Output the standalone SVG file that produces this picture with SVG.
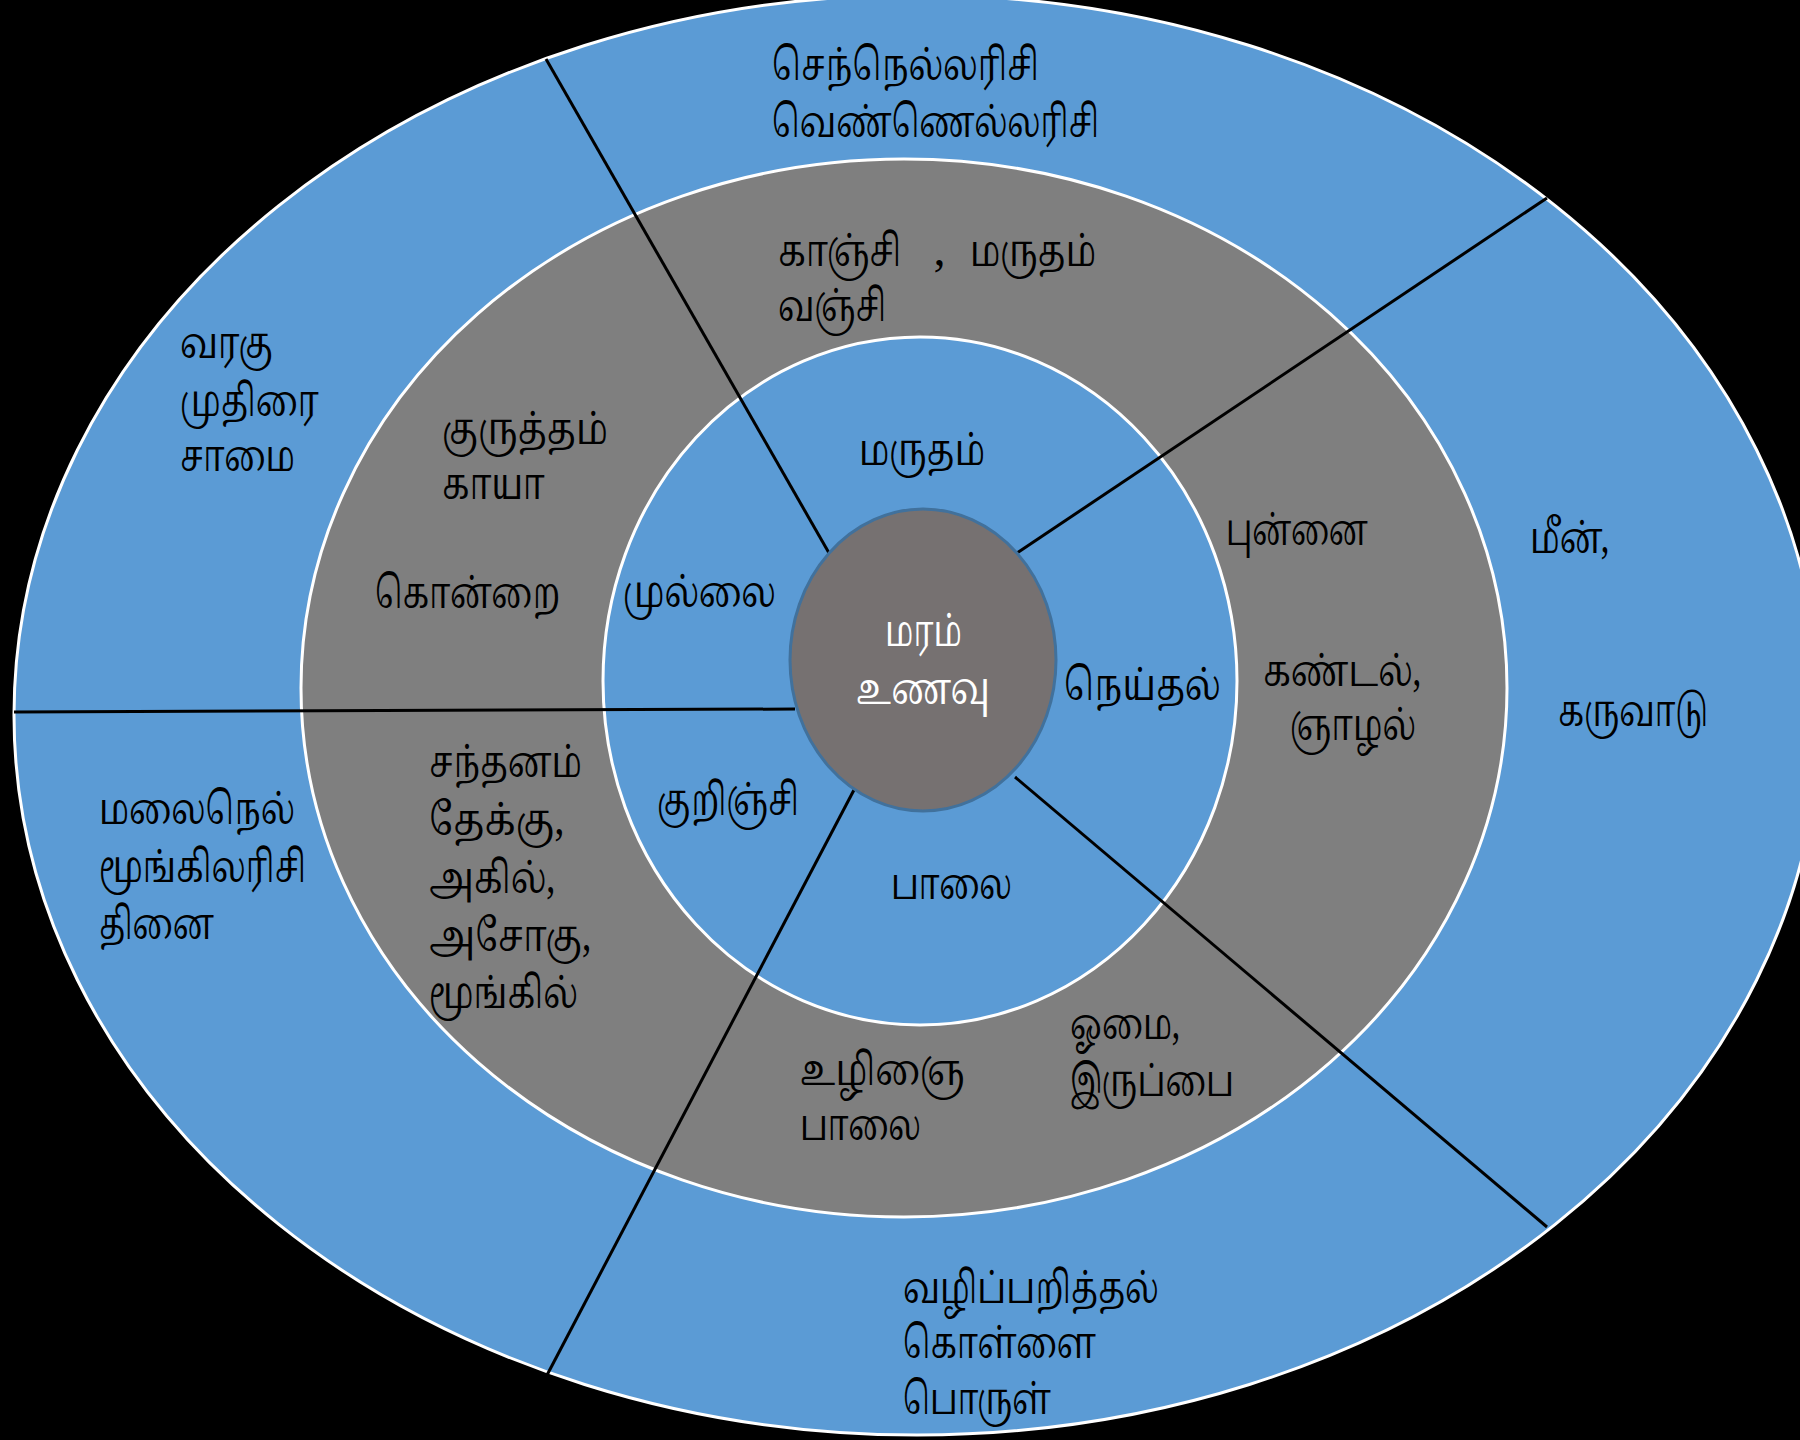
<svg xmlns="http://www.w3.org/2000/svg" width="1800" height="1440" viewBox="0 0 1800 1440">
<style>
.t{font-family:"Noto Serif Tamil","Noto Sans Tamil","Lohit Tamil","Latha","Noto Sans",sans-serif;font-size:44px;fill:#000}
.w{fill:#fff}
.ring{stroke:#fff;stroke-width:3}
.conn{stroke:#000;stroke-width:3;fill:none}
</style>
<rect x="0" y="0" width="1800" height="1440" fill="#000"/>
<g id="outer-ring">
<ellipse class="ring" cx="917" cy="715" rx="903" ry="720" fill="#5B9BD5"/>
</g>
<g id="middle-ring">
<ellipse class="ring" cx="904" cy="688" rx="603" ry="529" fill="#7F7F7F"/>
</g>
<g id="inner-ring">
<ellipse class="ring" cx="920" cy="681" rx="317" ry="344" fill="#5B9BD5"/>
</g>
<g id="connectors">
<line class="conn" x1="546" y1="59" x2="829" y2="553"/>
<line class="conn" x1="1547" y1="198" x2="1017" y2="553"/>
<line class="conn" x1="14" y1="712" x2="795" y2="709"/>
<line class="conn" x1="855" y1="788" x2="546" y2="1377"/>
<line class="conn" x1="1015" y1="777" x2="1547" y2="1227"/>
</g>
<g id="center">
<ellipse cx="923" cy="660" rx="133" ry="151" fill="#767171" stroke="#41719C" stroke-width="3"/>
<text class="t w" x="885" y="646" textLength="77" lengthAdjust="spacingAndGlyphs">மரம்</text>
<text class="t w" x="856" y="704" textLength="134" lengthAdjust="spacingAndGlyphs">உணவு</text>
</g>
<g id="marutham">
<text class="t" x="859" y="465" textLength="126" lengthAdjust="spacingAndGlyphs">மருதம்</text>
<text class="t" x="778" y="266" textLength="123" lengthAdjust="spacingAndGlyphs">காஞ்சி</text>
<text class="t" x="934" y="266">,</text>
<text class="t" x="970" y="266" textLength="126" lengthAdjust="spacingAndGlyphs">மருதம்</text>
<text class="t" x="778" y="321" textLength="108" lengthAdjust="spacingAndGlyphs">வஞ்சி</text>
<text class="t" x="772" y="80" textLength="267" lengthAdjust="spacingAndGlyphs">செந்நெல்லரிசி</text>
<text class="t" x="772" y="137" textLength="327" lengthAdjust="spacingAndGlyphs">வெண்ணெல்லரிசி</text>
</g>
<g id="mullai">
<text class="t" x="623" y="607" textLength="153" lengthAdjust="spacingAndGlyphs">முல்லை</text>
<text class="t" x="442" y="444" textLength="166" lengthAdjust="spacingAndGlyphs">குருத்தம்</text>
<text class="t" x="442" y="499" textLength="103" lengthAdjust="spacingAndGlyphs">காயா</text>
<text class="t" x="375" y="608" textLength="185" lengthAdjust="spacingAndGlyphs">கொன்றை</text>
<text class="t" x="180" y="358" textLength="93" lengthAdjust="spacingAndGlyphs">வரகு</text>
<text class="t" x="180" y="416" textLength="139" lengthAdjust="spacingAndGlyphs">முதிரை</text>
<text class="t" x="180" y="471" textLength="115" lengthAdjust="spacingAndGlyphs">சாமை</text>
</g>
<g id="kurinji">
<text class="t" x="657" y="815" textLength="142" lengthAdjust="spacingAndGlyphs">குறிஞ்சி</text>
<text class="t" x="429" y="777" textLength="153" lengthAdjust="spacingAndGlyphs">சந்தனம்</text>
<text class="t" x="429" y="835" textLength="135" lengthAdjust="spacingAndGlyphs">தேக்கு,</text>
<text class="t" x="429" y="893" textLength="126" lengthAdjust="spacingAndGlyphs">அகில்,</text>
<text class="t" x="429" y="951" textLength="162" lengthAdjust="spacingAndGlyphs">அசோகு,</text>
<text class="t" x="429" y="1008" textLength="149" lengthAdjust="spacingAndGlyphs">மூங்கில்</text>
<text class="t" x="99" y="824" textLength="196" lengthAdjust="spacingAndGlyphs">மலைநெல்</text>
<text class="t" x="99" y="882" textLength="207" lengthAdjust="spacingAndGlyphs">மூங்கிலரிசி</text>
<text class="t" x="99" y="939" textLength="115" lengthAdjust="spacingAndGlyphs">தினை</text>
</g>
<g id="palai">
<text class="t" x="891" y="899" textLength="121" lengthAdjust="spacingAndGlyphs">பாலை</text>
<text class="t" x="800" y="1085" textLength="165" lengthAdjust="spacingAndGlyphs">உழிஞை</text>
<text class="t" x="800" y="1140" textLength="121" lengthAdjust="spacingAndGlyphs">பாலை</text>
<text class="t" x="1070" y="1039" textLength="110" lengthAdjust="spacingAndGlyphs">ஓமை,</text>
<text class="t" x="1070" y="1096" textLength="164" lengthAdjust="spacingAndGlyphs">இருப்பை</text>
<text class="t" x="903" y="1303" textLength="256" lengthAdjust="spacingAndGlyphs">வழிப்பறித்தல்</text>
<text class="t" x="903" y="1358" textLength="193" lengthAdjust="spacingAndGlyphs">கொள்ளை</text>
<text class="t" x="903" y="1414" textLength="148" lengthAdjust="spacingAndGlyphs">பொருள்</text>
</g>
<g id="neythal">
<text class="t" x="1064" y="700" textLength="157" lengthAdjust="spacingAndGlyphs">நெய்தல்</text>
<text class="t" x="1226" y="545" textLength="142" lengthAdjust="spacingAndGlyphs">புன்னை</text>
<text class="t" x="1263" y="686" textLength="158" lengthAdjust="spacingAndGlyphs">கண்டல்,</text>
<text class="t" x="1290" y="740" textLength="126" lengthAdjust="spacingAndGlyphs">ஞாழல்</text>
<text class="t" x="1530" y="553" textLength="79" lengthAdjust="spacingAndGlyphs">மீன்,</text>
<text class="t" x="1558" y="726" textLength="150" lengthAdjust="spacingAndGlyphs">கருவாடு</text>
</g>
</svg>
